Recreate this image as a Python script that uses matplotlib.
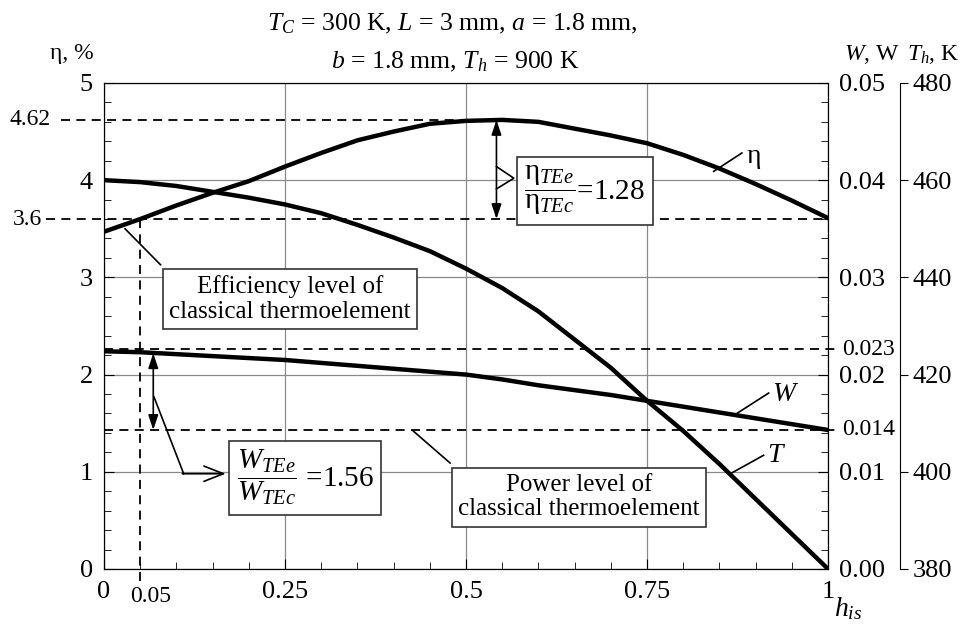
import matplotlib
matplotlib.use("Agg")
import matplotlib.pyplot as plt
from matplotlib.ticker import MultipleLocator

plt.rcParams['font.family'] = ['Liberation Serif', 'DejaVu Serif']
plt.rcParams['mathtext.fontset'] = 'custom'
plt.rcParams['mathtext.rm'] = 'Liberation Serif'
plt.rcParams['mathtext.it'] = 'Liberation Serif:italic'

# data
h_is = [0.00, 0.05, 0.10, 0.15, 0.20, 0.25, 0.30, 0.35, 0.40, 0.45, 0.50,
        0.55, 0.60, 0.65, 0.70, 0.75, 0.80, 0.85, 0.90, 0.95, 1.00]
eta = [3.47, 3.60, 3.74, 3.87, 3.99, 4.14, 4.28, 4.41, 4.50, 4.58, 4.61,
       4.62, 4.60, 4.53, 4.46, 4.38, 4.26, 4.12, 3.96, 3.79, 3.61]
power = [0.0224, 0.0223, 0.0221, 0.0219, 0.0217, 0.0215, 0.0212, 0.0209, 0.0206, 0.0203, 0.0200,
         0.0195, 0.0189, 0.0184, 0.0179, 0.0173, 0.0167, 0.0161, 0.0155, 0.0149, 0.0143]
t_hot = [460.0, 459.6, 458.8, 457.6, 456.4, 455.0, 453.2, 450.8, 448.2, 445.4, 441.8,
         437.8, 433.0, 427.2, 421.4, 414.6, 408.4, 401.6, 394.4, 387.2, 380.0]

eta_levels = [4.62, 3.6]           # efficiency: extended / classical
eta_labels = ['4.62', '3.6']
w_levels = [0.0226, 0.0143]        # power: extended / classical
w_labels = ['0.023', '0.014']
h_classic = 0.05
h_peak = 0.542

x_ticks = [0, 0.25, 0.5, 0.75, 1]
x_ticklabels = ['0', '0.25', '0.5', '0.75', '1']

fig = plt.figure(figsize=(9.66, 6.29), dpi=100)
ax = fig.add_axes([0.1077, 0.0954, 0.7495, 0.7727])
axw = ax.twinx()
axt = ax.twinx()
axt.spines['right'].set_position(('outward', 52))

ax.grid(True, which='major', color='#8a8a8a', lw=0.9)
ax.plot(h_is, eta, color='k', lw=3.2)
axw.plot(h_is, power, color='k', lw=3.2)
axt.plot(h_is, t_hot, color='k', lw=3.2)

ax.set_xlim(0, 1)
ax.set_ylim(0, 5)
axw.set_ylim(0, 0.05)
axt.set_ylim(380, 480)

ax.set_xticks(x_ticks)
ax.set_xticklabels(x_ticklabels)
ax.xaxis.set_minor_locator(MultipleLocator(0.05))
ax.yaxis.set_minor_locator(MultipleLocator(0.2))
ax.tick_params(which='both', direction='in', top=False, right=False, labelsize=19)
ax.tick_params(which='major', length=7)
ax.tick_params(which='minor', length=5)
ax.tick_params(axis='y', pad=8)
ax.tick_params(axis='x', pad=9)

axw.set_yticks([0, 0.01, 0.02, 0.03, 0.04, 0.05])
axw.set_yticklabels(['0.00', '0.01', '0.02', '0.03', '0.04', '0.05'])
axw.yaxis.set_minor_locator(MultipleLocator(0.002))
axw.tick_params(which='both', direction='in', labelsize=19, pad=8)
axw.tick_params(which='major', length=7)
axw.tick_params(which='minor', length=5)

axt.set_yticks(range(380, 481, 20))
axt.tick_params(direction='out', length=6, labelsize=19, pad=3)
for s in ['left', 'top', 'bottom']:
    axt.spines[s].set_visible(False)

# dashed reference lines
dash = dict(color='k', lw=1.3, dashes=(5, 3.5), clip_on=False)
axt.plot([-0.06, 0.53], [eta_levels[0]] * 2, transform=ax.transData, **dash)
axt.plot([-0.08, 1.0], [eta_levels[1]] * 2, transform=ax.transData, **dash)
for lv in w_levels:
    axt.plot([0, 1.012], [lv, lv], transform=axw.transData, **dash)
axt.plot([h_classic, h_classic], [eta_levels[1], -0.15], transform=ax.transData, **dash)

axt.text(-0.074, eta_levels[0], eta_labels[0], transform=ax.transData,
         ha='right', va='center', fontsize=17)
axt.text(-0.086, eta_levels[1], eta_labels[1], transform=ax.transData,
         ha='right', va='center', fontsize=17)
for lv, lb in zip(w_levels, w_labels):
    axt.text(1.019, lv, lb, transform=axw.transData, ha='left', va='center', fontsize=17)
axt.text(0.036, -0.17, '0.05', transform=ax.transData, ha='left', va='top', fontsize=17)

# double arrows
dbl = dict(arrowstyle='<|-|>,head_length=0.9,head_width=0.3', color='k', lw=1.2,
           shrinkA=0, shrinkB=0)
axt.annotate('', xy=(h_peak, eta_levels[1]), xytext=(h_peak, eta_levels[0]),
             xycoords=ax.transData, textcoords=ax.transData, arrowprops=dbl)
axt.annotate('', xy=(0.068, w_levels[1]), xytext=(0.068, 0.0222),
             xycoords=axw.transData, textcoords=axw.transData, arrowprops=dbl)

# pointers
lead = dict(color='k', lw=1.2, clip_on=False, transform=ax.transData)
axt.plot([h_peak, 0.566, h_peak], [4.14, 4.02, 3.91], **lead)
axt.plot([0.069, 0.110], [1.77, 0.98], **lead)
axt.annotate('', xy=(0.168, 0.98), xytext=(0.108, 0.98),
             xycoords=ax.transData, textcoords=ax.transData,
             arrowprops=dict(arrowstyle='->,head_length=1.4,head_width=0.55',
                             color='k', lw=1.2, shrinkA=0, shrinkB=0))
axt.plot([0.029, 0.078], [3.50, 3.13], **lead)
axt.plot([0.427, 0.478], [1.42, 1.09], **lead)
axt.plot([0.842, 0.881], [4.09, 4.28], **lead)
axt.plot([0.874, 0.918], [1.60, 1.81], **lead)
axt.plot([0.865, 0.911], [0.98, 1.17], **lead)

# curve names
axt.text(0.888, 4.24, 'η', transform=ax.transData, ha='left', va='center', fontsize=20)
axt.text(0.923, 1.80, '$W$', transform=ax.transData, ha='left', va='center', fontsize=20)
axt.text(0.915, 1.17, '$T$', transform=ax.transData, ha='left', va='center', fontsize=20)

box = dict(boxstyle='square,pad=0.25', fc='white', ec='#333333', lw=1.2)
axt.text(0.257, 2.78, 'Efficiency level of\nclassical thermoelement', transform=ax.transData,
         ha='center', va='center', fontsize=18, linespacing=1.15, bbox=box)
axt.text(0.656, 0.74, 'Power level of\nclassical thermoelement', transform=ax.transData,
         ha='center', va='center', fontsize=18, linespacing=1.15, bbox=box)
axt.text(0.664, 3.89, r'$\dfrac{\mathrm{\eta}_{TEe}}{\mathrm{\eta}_{TEc}}$=1.28', transform=ax.transData,
         ha='center', va='center', fontsize=21, bbox=box)
axt.text(0.278, 0.94, r'$\dfrac{W_{TEe}}{W_{TEc}}$ =1.56', transform=ax.transData,
         ha='center', va='center', fontsize=21, bbox=box)

# titles and axis names
fig.text(452 / 966, 1 - 24 / 629, '$T_C$ = 300 K, $L$ = 3 mm, $a$ = 1.8 mm,',
         ha='center', va='center', fontsize=18.5)
fig.text(455 / 966, 1 - 62 / 629, '$b$ = 1.8 mm, $T_h$ = 900 K',
         ha='center', va='center', fontsize=18.5)
fig.text(72 / 966, 1 - 54 / 629, 'η, %', ha='center', va='center', fontsize=17)
fig.text(872 / 966, 1 - 54 / 629, '$W$, W', ha='center', va='center', fontsize=17)
fig.text(933 / 966, 1 - 54 / 629, '$T_h$, K', ha='center', va='center', fontsize=17)
fig.text(834 / 966, 1 - 616 / 629, '$h_{is}$', ha='left', va='baseline', fontsize=20)

fig.savefig('out.png', dpi=100)
